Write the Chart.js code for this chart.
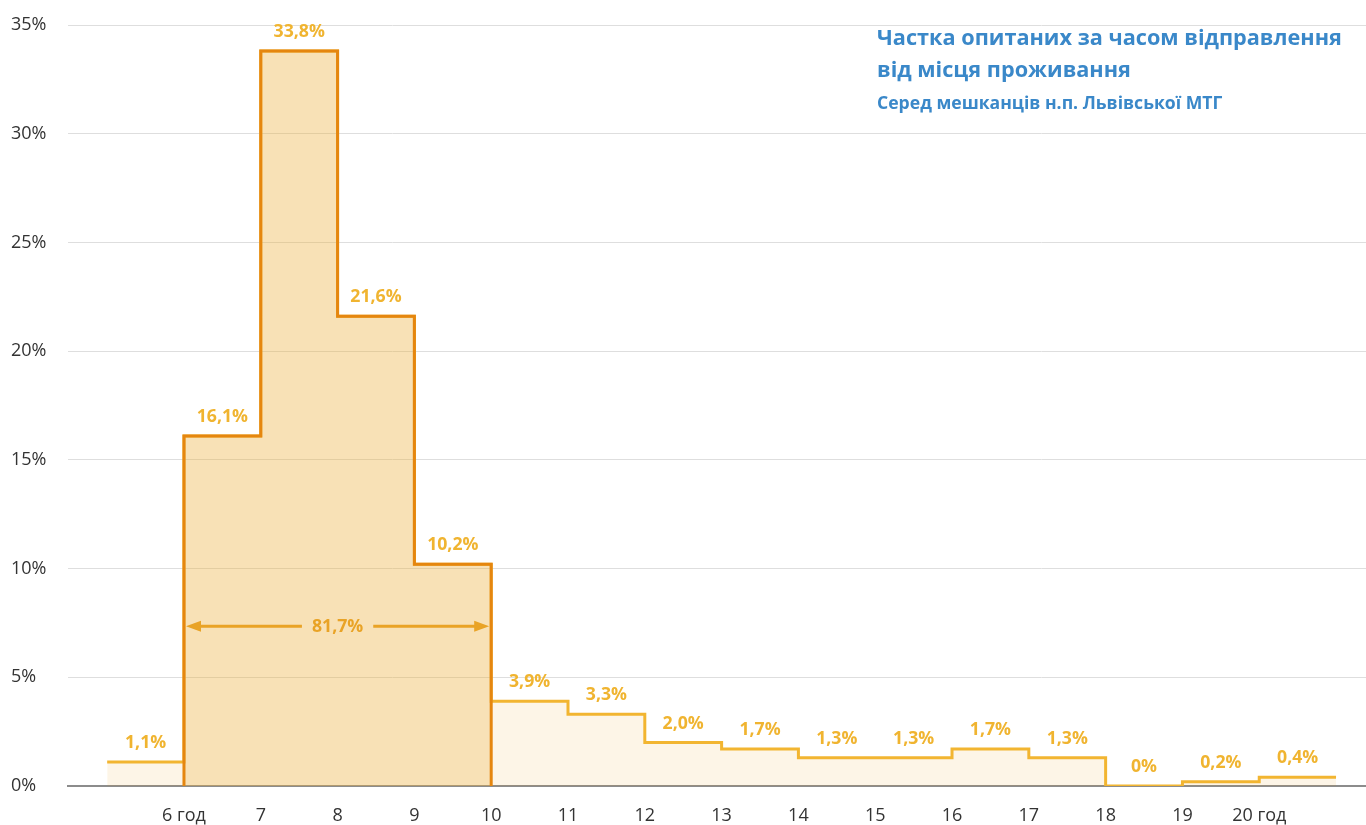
<!DOCTYPE html>
<html lang="uk">
<head>
<meta charset="utf-8">
<script src="https://cdn.jsdelivr.net/npm/chart.js@4/dist/chart.umd.min.js"></script>
<style>
  html, body { margin: 0; padding: 0; background: #fff; }
  #wrap { position: relative; width: 1366px; height: 825px; }
  #title { position: absolute; left: 877px; top: 21px; font-family: "Open Sans", sans-serif; color: #3A88C9; }
  #title .t1 { font-weight: 700; font-size: 21.7px; line-height: 32px; }
  #title .t2 { font-weight: 700; font-size: 17.6px; line-height: 22px; margin-top: 6px; }
</style>
</head>
<body>
<div id="wrap">
  <canvas id="c"></canvas>
  <div id="title">
    <div class="t1">Частка опитаних за часом відправлення<br>від місця проживання</div>
    <div class="t2">Серед мешканців н.п. Львівської МТГ</div>
  </div>
</div>
<script>
// ---- data ----
const binStartHours = [5, 6, 7, 8, 9, 10, 11, 12, 13, 14, 15, 16, 17, 18, 19, 20];
const shares = [1.1, 16.1, 33.8, 21.6, 10.2, 3.9, 3.3, 2.0, 1.7, 1.3, 1.3, 1.7, 1.3, 0, 0.2, 0.4];
const tickHours = [6, 7, 8, 9, 10, 11, 12, 13, 14, 15, 16, 17, 18, 19, 20];
const tickLabels = ['6 год', '7', '8', '9', '10', '11', '12', '13', '14', '15', '16', '17', '18', '19', '20 год'];
const yTickValues = [0, 5, 10, 15, 20, 25, 30, 35];
const peakStart = 6;
const peakEnd = 10;
const peakTotalLabel = '81,7%';
const peakArrowLevel = 7.35;

// ---- derived points ----
const binWidth = 1;
const lastEnd = binStartHours[binStartHours.length - 1] + binWidth;
const allPoints = binStartHours.map((h, i) => ({ x: h, y: shares[i] }));
allPoints.push({ x: lastEnd, y: shares[shares.length - 1] });
const peakPoints = [{ x: peakStart, y: 0 }];
binStartHours.forEach((h, i) => { if (h >= peakStart && h < peakEnd) peakPoints.push({ x: h, y: shares[i] }); });
peakPoints.push({ x: peakEnd, y: 0 });

const fmt = v => v === 0 ? '0%' : v.toFixed(1).replace('.', ',') + '%';
const FONT = '"Open Sans", sans-serif';
const LABEL_COLOR = '#F0B430';

const labelPlugin = {
  id: 'binLabels',
  afterDatasetsDraw(chart) {
    const { ctx, scales: { x, y } } = chart;
    ctx.save();
    ctx.font = 'bold 17.7px ' + FONT;
    ctx.fillStyle = LABEL_COLOR;
    ctx.textAlign = 'center';
    ctx.textBaseline = 'alphabetic';
    binStartHours.forEach((h, i) => {
      const cx = x.getPixelForValue(h + binWidth / 2);
      const py = y.getPixelForValue(shares[i]);
      ctx.fillText(fmt(shares[i]), cx, py - 14);
    });
    // peak arrow
    const x1 = x.getPixelForValue(peakStart) + 2;
    const x2 = x.getPixelForValue(peakEnd) - 2;
    const ay = y.getPixelForValue(peakArrowLevel);
    const mid = (x1 + x2) / 2;
    const ARROW = '#E9A326';
    const tw = ctx.measureText(peakTotalLabel).width;
    const gap = 10;
    ctx.strokeStyle = ARROW;
    ctx.fillStyle = ARROW;
    ctx.lineWidth = 3;
    ctx.beginPath();
    ctx.moveTo(x1 + 10, ay); ctx.lineTo(mid - tw / 2 - gap, ay);
    ctx.moveTo(mid + tw / 2 + gap, ay); ctx.lineTo(x2 - 10, ay);
    ctx.stroke();
    ctx.beginPath();
    ctx.moveTo(x1, ay); ctx.lineTo(x1 + 15, ay - 5.5); ctx.lineTo(x1 + 15, ay + 5.5); ctx.closePath(); ctx.fill();
    ctx.beginPath();
    ctx.moveTo(x2, ay); ctx.lineTo(x2 - 15, ay - 5.5); ctx.lineTo(x2 - 15, ay + 5.5); ctx.closePath(); ctx.fill();
    ctx.textBaseline = 'middle';
    ctx.fillText(peakTotalLabel, mid, ay + 1);
    ctx.restore();
  }
};

new Chart(document.getElementById('c'), {
  type: 'line',
  data: {
    datasets: [
      {
        data: peakPoints,
        stepped: true,
        borderColor: '#E5860F',
        borderWidth: 3,
        backgroundColor: 'rgba(236,185,78,0.32)',
        fill: 'origin',
        pointRadius: 0,
        order: 0,
        borderJoinStyle: 'miter',
        borderCapStyle: 'butt'
      },
      {
        data: allPoints,
        stepped: true,
        borderColor: '#F2B531',
        borderWidth: 3,
        backgroundColor: 'rgba(235,155,15,0.1)',
        fill: 'origin',
        pointRadius: 0,
        order: 1,
        borderJoinStyle: 'miter',
        borderCapStyle: 'butt'
      }
    ]
  },
  options: {
    responsive: true,
    maintainAspectRatio: false,
    animation: false,
    layout: { padding: { left: 11, top: 25, right: 0, bottom: 0 } },
    plugins: { legend: { display: false }, tooltip: { enabled: false } },
    scales: {
      x: {
        type: 'linear',
        min: 4.49,
        max: 21.39,
        afterBuildTicks(scale) { scale.ticks = tickHours.map(v => ({ value: v })); },
        afterFit(scale) { scale.height = 39; },
        ticks: {
          autoSkip: false,
          maxRotation: 0,
          padding: 19,
          color: '#333',
          font: { family: FONT, size: 18 },
          callback(value) { const i = tickHours.indexOf(value); return i >= 0 ? tickLabels[i] : ''; }
        },
        grid: { display: false, drawTicks: false },
        border: { display: true, color: '#8C8C8C', width: 2 }
      },
      y: {
        min: 0,
        max: 35,
        afterBuildTicks(scale) { scale.ticks = yTickValues.map(v => ({ value: v })); },
        afterFit(scale) { scale.width = 57; },
        ticks: {
          crossAlign: 'far',
          padding: 0,
          color: '#333',
          font: { family: FONT, size: 18 },
          callback: v => v + '%'
        },
        grid: { color: '#DEDEDE', lineWidth: 1, drawTicks: false },
        border: { display: false }
      }
    }
  },
  plugins: [labelPlugin]
});
</script>
</body>
</html>
